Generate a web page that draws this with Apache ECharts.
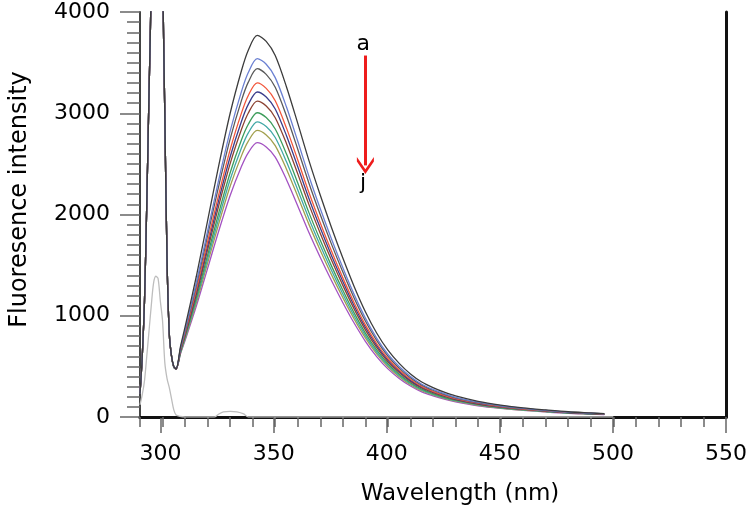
<!DOCTYPE html>
<html>
<head>
<meta charset="utf-8">
<script src="https://cdn.jsdelivr.net/npm/echarts@6/dist/echarts.min.js"></script>
<style>
html,body{margin:0;padding:0;background:#fff;}
#chart{width:750px;height:511px;}
</style>
</head>
<body>
<div id="chart"></div>
<script>
// Scatter (excitation) spike region, shared by all spectra
const scatterWavelengths = [290, 291, 292, 293, 294, 295, 296, 297, 298, 299, 300, 301, 302, 303, 304];
const scatterIntensity   = [230, 600, 1150, 2100, 3200, 4300, 7000, 9000, 9000, 7000, 4500, 3000, 1550, 820, 600];

// Emission region wavelengths
const emissionWavelengths = [305, 306, 308, 310, 315, 320, 325, 330, 335, 338, 342, 346, 350, 355, 360, 365, 370, 375, 380, 385, 390, 395, 400, 405, 410, 415, 420, 425, 430, 440, 450, 460, 470, 480, 490, 496];

const curveA = [500, 475, 700, 890, 1390, 1940, 2490, 3000, 3420, 3620, 3770, 3710, 3570, 3260, 2900, 2530, 2190, 1870, 1570, 1290, 1040, 830, 660, 530, 425, 345, 290, 245, 208, 155, 118, 90, 70, 52, 40, 33];
const curveB = [498, 475, 684, 861, 1326, 1837, 2349, 2823, 3214, 3400, 3540, 3484, 3352, 3061, 2723, 2376, 2056, 1756, 1474, 1211, 977, 779, 620, 498, 399, 324, 272, 230, 195, 146, 111, 85, 66, 49, 38, 31];
const curveC = [497, 474, 677, 848, 1298, 1793, 2288, 2747, 3125, 3305, 3440, 3384, 3256, 2973, 2645, 2307, 1997, 1705, 1432, 1176, 948, 757, 602, 483, 388, 315, 264, 223, 190, 141, 108, 82, 64, 47, 36, 30];
const curveD = [496, 474, 667, 830, 1259, 1731, 2203, 2641, 3001, 3173, 3300, 3246, 3124, 2853, 2538, 2214, 1916, 1636, 1374, 1129, 910, 726, 578, 464, 372, 302, 254, 214, 182, 136, 103, 79, 61, 46, 35, 29];
const curveE = [495, 474, 661, 819, 1234, 1690, 2147, 2570, 2919, 3085, 3210, 3161, 3042, 2778, 2471, 2156, 1866, 1593, 1338, 1099, 886, 707, 562, 452, 362, 294, 247, 209, 177, 132, 101, 77, 60, 44, 34, 28];
const curveF = [494, 474, 655, 807, 1209, 1650, 2092, 2502, 2839, 3000, 3120, 3072, 2956, 2699, 2401, 2095, 1813, 1548, 1300, 1068, 861, 687, 546, 439, 352, 286, 240, 203, 172, 128, 98, 75, 58, 43, 33, 27];
const curveG = [493, 474, 647, 793, 1177, 1599, 2021, 2413, 2736, 2889, 3005, 2957, 2845, 2598, 2311, 2016, 1745, 1490, 1251, 1028, 829, 662, 526, 422, 339, 275, 231, 195, 166, 124, 94, 72, 56, 41, 32, 26];
const curveH = [492, 474, 640, 781, 1152, 1559, 1967, 2345, 2656, 2804, 2915, 2868, 2760, 2520, 2242, 1956, 1693, 1446, 1214, 997, 804, 642, 510, 410, 329, 267, 224, 189, 161, 120, 91, 70, 54, 40, 31, 26];
const curveI = [491, 474, 634, 770, 1128, 1521, 1914, 2279, 2579, 2722, 2830, 2786, 2681, 2448, 2178, 1900, 1645, 1404, 1179, 969, 781, 623, 496, 398, 319, 259, 218, 184, 156, 116, 89, 68, 53, 39, 30, 25];
const curveJ = [490, 473, 626, 755, 1095, 1468, 1842, 2188, 2473, 2609, 2710, 2667, 2567, 2344, 2085, 1819, 1575, 1345, 1129, 928, 748, 597, 475, 381, 306, 248, 209, 176, 150, 111, 85, 65, 50, 37, 29, 24];

const curveNames = ['a', 'b', 'c', 'd', 'e', 'f', 'g', 'h', 'i', 'j'];
const curveValues = [curveA, curveB, curveC, curveD, curveE, curveF, curveG, curveH, curveI, curveJ];
const curveColors = ['#3c3c3c', '#6b80d2', '#5a5a5a', '#f2573c', '#3b3d8c', '#8c4232', '#3c9c5a', '#42a8a6', '#a2a04e', '#a352c2'];

// Blank (buffer) spectrum
const blankWavelengths = [290, 291, 292, 293, 294, 295, 296, 297, 298, 299, 300, 301, 302, 303, 304, 305, 306, 308, 310, 320, 323, 325, 327, 330, 333, 336, 338, 345, 400, 450, 500];
const blankIntensity   = [120, 220, 360, 600, 850, 1100, 1320, 1390, 1370, 1150, 950, 540, 380, 290, 180, 70, 20, 5, 0, 0, 0, 30, 50, 55, 50, 30, 0, 0, 0, 0, 0];

// Axis ticks
const xMajorTicks = [300, 350, 400, 450, 500, 550];
const yTicks = [0, 1000, 2000, 3000, 4000];

// Annotation (arrow a -> j)
const arrowWavelength = 390;
const arrowFrom = 3570;
const arrowTo = 2485;
const labelA = { name: 'a', x: 389, y: 3685 };
const labelJ = { name: 'j', x: 389, y: 2305 };

const FONT = 'DejaVu Sans';

function pairs(ws, vs) { return ws.map((w, i) => [w, vs[i]]); }

const series = [];
series.push({
  name: 'blank', type: 'line', xAxisIndex: 0, yAxisIndex: 0,
  data: pairs(blankWavelengths, blankIntensity),
  showSymbol: false, smooth: 0.3,
  lineStyle: { color: '#bdbdbd', width: 1.3 }, itemStyle: { color: '#bdbdbd' },
  z: 2
});
// draw j first, a last (a on top)
for (let k = curveValues.length - 1; k >= 0; k--) {
  const vals = curveValues[k];
  const s = {
    name: curveNames[k], type: 'line', xAxisIndex: 0, yAxisIndex: 0,
    data: pairs(scatterWavelengths, scatterIntensity).concat(pairs(emissionWavelengths, vals)),
    showSymbol: false, smooth: 0.3,
    lineStyle: { color: curveColors[k], width: 1.3 }, itemStyle: { color: curveColors[k] },
    z: 3
  };
  if (k === 0) {
    s.markLine = {
      silent: true, animation: false,
      symbol: ['none', 'path://M10,0 L20,11 L20,15 L10,4 L0,15 L0,11 Z'],
      symbolSize: 17,
      label: { show: false },
      lineStyle: { color: '#ee1c1c', width: 3, type: 'solid' },
      data: [[{ coord: [arrowWavelength, arrowFrom] }, { coord: [arrowWavelength, arrowTo] }]]
    };
    s.markPoint = {
      silent: true, animation: false,
      symbol: 'rect', symbolSize: 1,
      itemStyle: { color: 'rgba(0,0,0,0)' },
      label: { show: true, position: 'inside', formatter: '{b}', color: '#000', fontSize: 22, fontFamily: FONT },
      data: [
        { name: labelA.name, coord: [labelA.x, labelA.y] },
        { name: labelJ.name, coord: [labelJ.x, labelJ.y] }
      ]
    };
  }
  series.push(s);
}

const tickStyle = { color: '#666', width: 1.5 };

const option = {
  animation: false,
  backgroundColor: '#fff',
  grid: [
    { left: 138, right: 24, top: 12, bottom: 93 },
    { left: 160.6, right: 24, top: 12, bottom: 93 }
  ],
  xAxis: [
    {
      type: 'value', gridIndex: 0, min: 290, max: 550, interval: 10, position: 'bottom',
      axisLine: { show: true, lineStyle: { color: '#111', width: 3 } },
      axisTick: { show: true, length: 10, lineStyle: tickStyle },
      axisLabel: { show: false },
      splitLine: { show: false },
      name: 'Wavelength (nm)', nameLocation: 'middle', nameGap: 66,
      nameTextStyle: { fontFamily: FONT, fontSize: 23, color: '#000', padding: [0, 0, 0, 54] }
    },
    {
      type: 'value', gridIndex: 1, min: xMajorTicks[0], max: xMajorTicks[xMajorTicks.length - 1], interval: 50, position: 'bottom',
      axisLine: { show: false },
      axisTick: { show: true, length: 15, lineStyle: tickStyle },
      axisLabel: { show: true, margin: 25, fontFamily: FONT, fontSize: 22, color: '#000' },
      splitLine: { show: false }
    },
    {
      type: 'value', gridIndex: 0, min: 290, max: 550, position: 'top',
      axisLine: { show: true, lineStyle: { color: '#111', width: 3 } },
      axisTick: { show: false }, axisLabel: { show: false }, splitLine: { show: false }
    }
  ],
  yAxis: [
    {
      type: 'value', gridIndex: 0, min: yTicks[0], max: yTicks[yTicks.length - 1], interval: 1000, position: 'left',
      axisLine: { show: true, lineStyle: { color: '#444', width: 2 } },
      axisTick: { show: true, length: 20, lineStyle: tickStyle },
      minorTick: { show: true, splitNumber: 10, length: 13, lineStyle: tickStyle },
      axisLabel: { show: true, margin: 30, fontFamily: FONT, fontSize: 22, color: '#000', formatter: v => String(v) },
      splitLine: { show: false }, minorSplitLine: { show: false },
      name: 'Fluoresence intensity', nameLocation: 'middle', nameGap: 108, nameRotate: 90,
      nameTextStyle: { fontFamily: FONT, fontSize: 24, color: '#000', padding: [0, 0, 0, 30] }
    },
    {
      type: 'value', gridIndex: 1, min: 0, max: 4000, show: false
    },
    {
      type: 'value', gridIndex: 0, min: 0, max: 4000, position: 'right',
      axisLine: { show: true, lineStyle: { color: '#111', width: 3 } },
      axisTick: { show: false }, axisLabel: { show: false }, splitLine: { show: false }
    }
  ],
  series: series
};

const chart = echarts.init(document.getElementById('chart'), null, { renderer: 'canvas' });
chart.setOption(option);
</script>
</body>
</html>
